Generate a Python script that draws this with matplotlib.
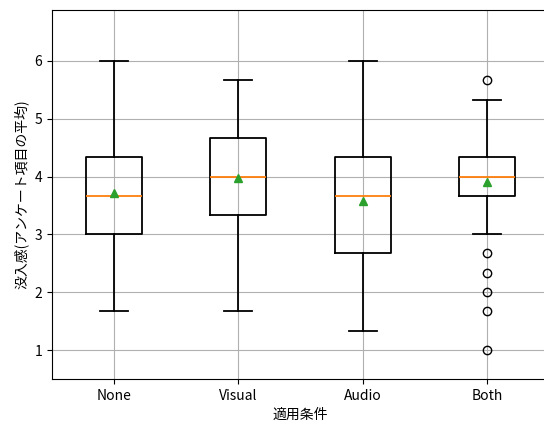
import matplotlib
matplotlib.use("Agg")
import matplotlib.pyplot as plt

plt.rcParams['font.family'] = ['Noto Sans CJK JP', 'DejaVu Sans']
for k in ['boxplot.boxprops.linewidth', 'boxplot.whiskerprops.linewidth',
          'boxplot.capprops.linewidth', 'boxplot.medianprops.linewidth',
          'boxplot.flierprops.linewidth']:
    plt.rcParams[k] = 1.3

conditions = ["None", "Visual", "Audio", "Both"]
whislo = [1.67, 1.67, 1.33, 3.0]
q1 = [3.0, 3.33, 2.67, 3.67]
med = [3.67, 4.0, 3.67, 4.0]
q3 = [4.33, 4.67, 4.33, 4.33]
whishi = [6.0, 5.67, 6.0, 5.33]
means = [3.72, 3.97, 3.57, 3.9]
fliers = [[], [], [], [5.67, 2.67, 2.33, 2.0, 1.67, 1.0]]

stats = []
for i in range(len(conditions)):
    stats.append(dict(label=conditions[i], whislo=whislo[i], q1=q1[i], med=med[i],
                      q3=q3[i], whishi=whishi[i], mean=means[i], fliers=fliers[i]))

fig = plt.figure(figsize=(5.44, 4.21), dpi=100)
ax = fig.add_axes([0.0956, 0.0998, 0.914, 0.8765])
ax.bxp(stats, showmeans=True)
ax.set_ylim(0.5, 6.88)
ax.set_yticks([1, 2, 3, 4, 5, 6])
ax.grid(True)
ax.set_xlabel("適用条件")
ax.set_ylabel("没入感(アンケート項目の平均)")
fig.savefig("out.png", dpi=100)
